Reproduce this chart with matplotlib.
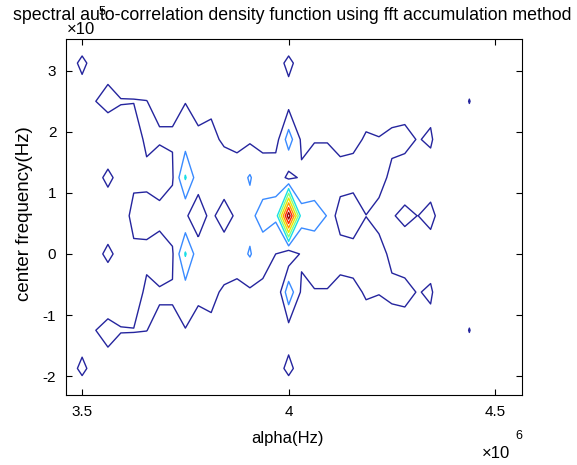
import numpy as np
import matplotlib
matplotlib.use("Agg")
import matplotlib.pyplot as plt

plt.rcParams['font.family'] = ['Liberation Sans', 'DejaVu Sans']

# ---- grid (cycle frequency alpha, spectral frequency f) ----
alpha_start_hz = 3.4375e6
alpha_step_hz = 31250.0
n_alpha = 37
freq_start_hz = -2.5e5
freq_step_hz = 62500.0
n_freq = 11

# ---- normalised spectral correlation magnitude, one list per frequency row ----
sx_f_m250k = [0.02]*2 + [0.0] + [0.02]*15 + [0.0] + [0.02]*18
sx_f_m188k = [0.05, 0.06, 0.123, 0.06, 0.062, 0.06] + [0.05]*11 + [0.06, 0.123, 0.06] + [0.05]*17
sx_f_m125k = [0.05, 0.05, 0.045, 0.098, 0.13, 0.103, 0.103, 0.101, 0.08, 0.09, 0.097, 0.064, 0.074,
              0.05, 0.05, 0.05, 0.05, 0.05, 0.058, 0.05, 0.05, 0.05, 0.05, 0.05, 0.06, 0.047, 0.055,
              0.053, 0.05, 0.071, 0.05, 0.05, 0.103, 0.05, 0.05, 0.05, 0.05]
sx_f_m63k = [0.05, 0.05, 0.05, 0.06, 0.03, 0.07, 0.05, 0.12, 0.11, 0.105, 0.15, 0.12, 0.13,
             0.081, 0.073, 0.086, 0.089, 0.0, 0.27, 0.083, 0.099, 0.098, 0.048, 0.077, 0.11, 0.104,
             0.12, 0.13, 0.095, 0.113, 0.03, 0.05, 0.05, 0.05, 0.05, 0.05, 0.05]
sx_f_0k = [0.05, 0.05, 0.05, 0.07, 0.12, 0.07, 0.085, 0.076, 0.04, 0.09, 0.31, 0.14, 0.14,
           0.18, 0.15, 0.21, 0.12, 0.1, 0.02, 0.115, 0.11, 0.12, 0.163, 0.14, 0.14, 0.13,
           0.08, 0.049, 0.05, 0.055, 0.04, 0.05, 0.05, 0.05, 0.05, 0.05, 0.05]
sx_f_p63k = [0.05, 0.05, 0.05, 0.05, 0.04, 0.06, 0.122, 0.14, 0.14, 0.14, 0.112, 0.05, 0.126,
             0.04, 0.126, 0.16, 0.26, 0.22, 0.87, 0.24, 0.26, 0.195, 0.037, 0.04, 0.099, 0.073,
             0.093, 0.12, 0.099, 0.125, 0.056, 0.05, 0.05, 0.05, 0.05, 0.05, 0.05]
sx_f_p125k = [0.05, 0.05, 0.05, 0.07, 0.12, 0.07, 0.085, 0.076, 0.04, 0.09, 0.31, 0.14, 0.14,
              0.18, 0.15, 0.21, 0.12, 0.18, 0.07, 0.115, 0.11, 0.12, 0.163, 0.14, 0.14, 0.13,
              0.08, 0.049, 0.05, 0.055, 0.04, 0.05, 0.05, 0.05, 0.05, 0.05, 0.05]
sx_f_p188k = [0.05, 0.05, 0.05, 0.06, 0.03, 0.07, 0.05, 0.12, 0.11, 0.105, 0.15, 0.12, 0.13,
              0.081, 0.073, 0.086, 0.089, 0.057, 0.25, 0.083, 0.099, 0.098, 0.048, 0.077, 0.11,
              0.104, 0.12, 0.13, 0.095, 0.113, 0.03, 0.05, 0.05, 0.05, 0.05, 0.05, 0.05]
sx_f_p250k = [0.05, 0.05, 0.045, 0.098, 0.13, 0.103, 0.103, 0.101, 0.08, 0.09, 0.097, 0.064, 0.074,
              0.05, 0.05, 0.05, 0.05, 0.05, 0.058, 0.05, 0.05, 0.05, 0.05, 0.05, 0.06, 0.047, 0.055,
              0.053, 0.05, 0.071, 0.05, 0.05, 0.103, 0.05, 0.05, 0.05, 0.05]
sx_f_p313k = [0.05, 0.06, 0.123, 0.06, 0.062, 0.06] + [0.05]*11 + [0.06, 0.123, 0.06] + [0.05]*17
sx_f_p375k = [0.02]*2 + [0.0] + [0.02]*15 + [0.0] + [0.02]*18

contour_levels = [0.1, 0.2, 0.3, 0.4, 0.5, 0.6, 0.7, 0.8]
level_colors = ['#25259e', '#3a8bff', '#19e0e6', '#86ff7a', '#e8e800', '#ff9a00', '#ff2600', '#9a0000']

x_tick_vals = [3.5e6, 4.0e6, 4.5e6]
x_tick_labels = ['3.5', '4', '4.5']
y_tick_vals = [-2e5, -1e5, 0, 1e5, 2e5, 3e5]
y_tick_labels = ['-2', '-1', '0', '1', '2', '3']

title_text = 'spectral auto-correlation density function using fft accumulation method'

# ---- build arrays ----
alpha_hz = alpha_start_hz + alpha_step_hz * np.arange(n_alpha)
freq_hz = freq_start_hz + freq_step_hz * np.arange(n_freq)
Z = np.array([sx_f_m250k, sx_f_m188k, sx_f_m125k, sx_f_m63k, sx_f_0k, sx_f_p63k,
              sx_f_p125k, sx_f_p188k, sx_f_p250k, sx_f_p313k, sx_f_p375k])

W, H = 577, 465
fig = plt.figure(figsize=(W/100, H/100), dpi=100)
ax = fig.add_axes([66/W, 70/H, 456/W, 356/H])

ax.contour(alpha_hz, freq_hz, Z, levels=contour_levels, colors=level_colors, linewidths=1.0)

ax.set_xlim(3.461e6, 4.565e6)
ax.set_ylim(-2.31e5, 3.52e5)
ax.set_xticks(x_tick_vals, labels=x_tick_labels)
ax.set_yticks(y_tick_vals, labels=y_tick_labels)
ax.tick_params(direction='in', length=4, width=0.8, top=True, right=True,
               labelsize=11, pad=7, colors='black')
for s in ax.spines.values():
    s.set_linewidth(0.8)

def px(x, y):
    return x / W, 1 - y / H

fig.text(*px(292, 15), title_text, ha='center', va='center', fontsize=12.8)
fig.text(*px(81, 30), '\u00d710', ha='center', va='center', fontsize=12)
fig.text(*px(102, 12), '5', ha='center', va='center', fontsize=9)
fig.text(*px(288, 438), 'alpha(Hz)', ha='center', va='center', fontsize=12)
fig.text(*px(496, 453), '\u00d710', ha='center', va='center', fontsize=12)
fig.text(*px(519, 436), '6', ha='center', va='center', fontsize=9)
fig.text(*px(25, 214), 'center frequency(Hz)', ha='center', va='center', rotation=90, fontsize=13.5)

fig.savefig('out.png', dpi=100)
